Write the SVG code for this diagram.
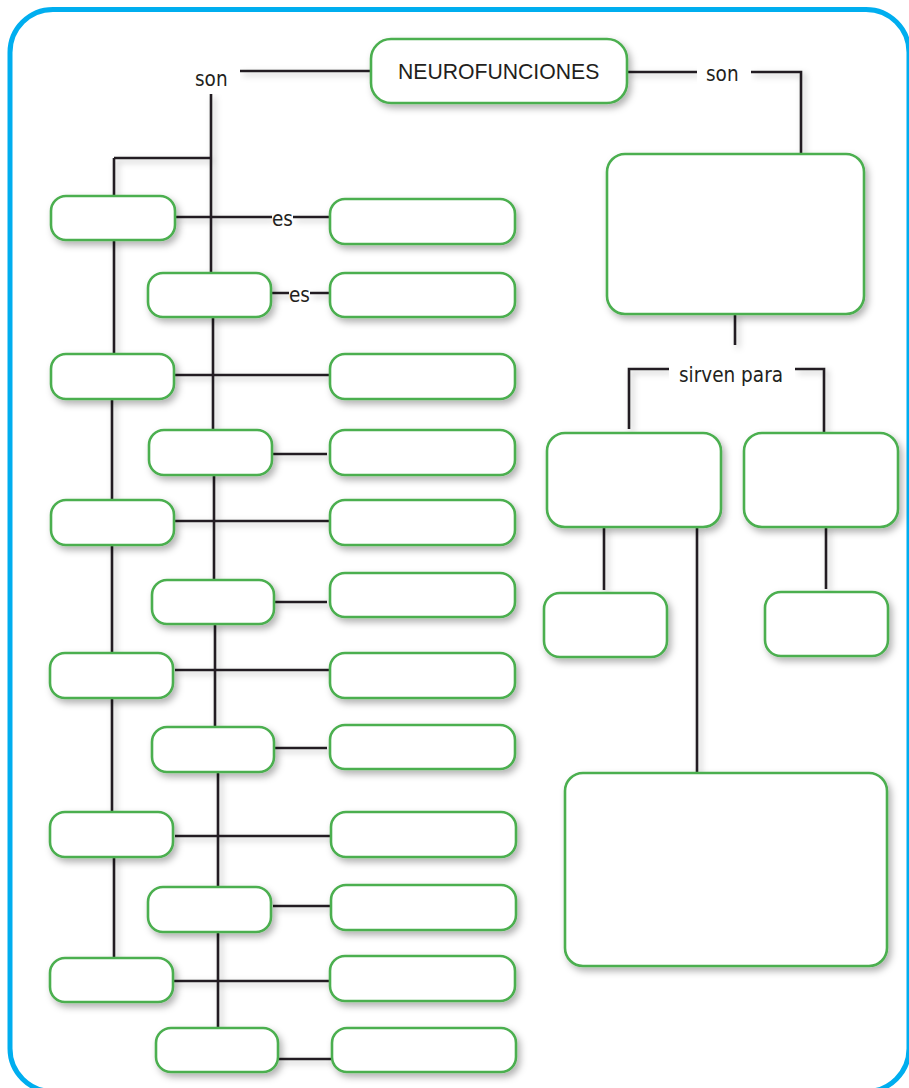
<svg xmlns="http://www.w3.org/2000/svg" width="909" height="1088" viewBox="0 0 909 1088">
<style>
.box{fill:#fff;stroke:#4CAF50;stroke-width:2.6;filter:url(#sh)}
.ln{fill:none;stroke:#231F20;stroke-width:2.6}
.lbl{font-family:"DejaVu Sans Condensed","DejaVu Sans",sans-serif;font-size:20.5px;fill:#231F20}
.main{font-family:"Liberation Sans",Arial,sans-serif;font-size:21.2px;fill:#231F20}
</style>
<defs>
<filter id="sh" x="-20%" y="-20%" width="150%" height="150%">
<feDropShadow dx="3" dy="4" stdDeviation="3.5" flood-color="#000" flood-opacity="0.3"/>
</filter>
<filter id="lsh" x="-50%" y="-50%" width="200%" height="200%">
<feDropShadow dx="3" dy="3" stdDeviation="3" flood-color="#000" flood-opacity="0.25"/>
</filter>
</defs>
<rect width="909" height="1088" fill="#fff"/>
<rect x="10" y="9.5" width="899" height="1082" rx="43" fill="none" stroke="#00AEEF" stroke-width="5"/>

<g id="connectors" class="ln" filter="url(#lsh)">
<path d="M240,71 H371"/>
<path d="M211,94 V273"/>
<path d="M114,158 H211"/>
<path d="M114,158 V196"/>
<path d="M627,72 H697 M751,72 H801 V154"/>
<path d="M114,240 V354 M112,399 V500 M112,545 V653 M112,698 V812 M114,857 V958"/>
<path d="M213,317 V430 M214,475 V580 M215,624 V727 M218,772 V887 M218,932 V1028"/>
<path d="M175,217 H272 M293,217 H330"/>
<path d="M271,293 H289 M310,293 H330"/>
<path d="M175,375 H330"/>
<path d="M273,454 H327"/>
<path d="M175,521 H330"/>
<path d="M275,602 H327"/>
<path d="M175,670 H330"/>
<path d="M275,748 H327"/>
<path d="M175,836 H331"/>
<path d="M273,906 H330"/>
<path d="M173,981 H330"/>
<path d="M279,1059 H332"/>
<path d="M735,314 V345"/>
<path d="M629,429 V369 H669 M795,369 H824 V432"/>
<path d="M604,527 V590"/>
<path d="M697,527 V773"/>
<path d="M826,527 V589"/>
</g>

<g id="lbl-son-left"><rect x="186" y="62" width="54" height="32" fill="#fff"/><text class="lbl" x="195" y="86">son</text></g>
<g id="lbl-son-right"><rect x="697" y="63" width="54" height="27" fill="#fff"/><text class="lbl" x="706" y="81">son</text></g>
<g id="lbl-sirven"><rect x="669" y="361" width="126" height="25" fill="#fff"/><text class="lbl" x="679" y="382">sirven para</text></g>
<g id="lbl-es1"><text class="lbl" x="272" y="226">es</text></g>
<g id="lbl-es2"><text class="lbl" x="289" y="302">es</text></g>

<g id="n-neuro"><rect class="box" x="371" y="39" width="256" height="64" rx="20"/><text class="main" x="398" y="79">NEUROFUNCIONES</text></g>

<g id="n-a1"><rect class="box" x="51" y="196" width="124" height="44" rx="15"/></g>
<g id="n-a2"><rect class="box" x="51" y="354" width="123" height="45" rx="15"/></g>
<g id="n-a3"><rect class="box" x="51" y="500" width="123" height="45" rx="15"/></g>
<g id="n-a4"><rect class="box" x="50" y="653" width="123" height="45" rx="15"/></g>
<g id="n-a5"><rect class="box" x="50" y="812" width="123" height="45" rx="15"/></g>
<g id="n-a6"><rect class="box" x="50" y="958" width="123" height="44" rx="15"/></g>

<g id="n-b1"><rect class="box" x="148" y="273" width="123" height="44" rx="15"/></g>
<g id="n-b2"><rect class="box" x="149" y="430" width="123" height="45" rx="15"/></g>
<g id="n-b3"><rect class="box" x="152" y="580" width="122" height="44" rx="15"/></g>
<g id="n-b4"><rect class="box" x="152" y="727" width="122" height="45" rx="15"/></g>
<g id="n-b5"><rect class="box" x="148" y="887" width="123" height="45" rx="15"/></g>
<g id="n-b6"><rect class="box" x="156" y="1028" width="122" height="44" rx="15"/></g>

<g id="n-c1"><rect class="box" x="330" y="199" width="185" height="45" rx="15"/></g>
<g id="n-c2"><rect class="box" x="330" y="273" width="185" height="44" rx="15"/></g>
<g id="n-c3"><rect class="box" x="330" y="354" width="185" height="45" rx="15"/></g>
<g id="n-c4"><rect class="box" x="330" y="430" width="185" height="45" rx="15"/></g>
<g id="n-c5"><rect class="box" x="330" y="500" width="185" height="45" rx="15"/></g>
<g id="n-c6"><rect class="box" x="330" y="573" width="185" height="44" rx="15"/></g>
<g id="n-c7"><rect class="box" x="330" y="653" width="185" height="45" rx="15"/></g>
<g id="n-c8"><rect class="box" x="330" y="725" width="185" height="44" rx="15"/></g>
<g id="n-c9"><rect class="box" x="331" y="812" width="185" height="45" rx="15"/></g>
<g id="n-c10"><rect class="box" x="331" y="885" width="185" height="45" rx="15"/></g>
<g id="n-c11"><rect class="box" x="330" y="956" width="185" height="45" rx="15"/></g>
<g id="n-c12"><rect class="box" x="332" y="1028" width="184" height="44" rx="15"/></g>

<g id="n-r1"><rect class="box" x="607" y="154" width="257" height="160" rx="18"/></g>
<g id="n-r2"><rect class="box" x="547" y="433" width="174" height="94" rx="18"/></g>
<g id="n-r3"><rect class="box" x="744" y="433" width="154" height="94" rx="18"/></g>
<g id="n-r4"><rect class="box" x="544" y="593" width="123" height="64" rx="16"/></g>
<g id="n-r5"><rect class="box" x="765" y="592" width="123" height="64" rx="16"/></g>
<g id="n-r6"><rect class="box" x="565" y="773" width="322" height="193" rx="18"/></g>
</svg>
